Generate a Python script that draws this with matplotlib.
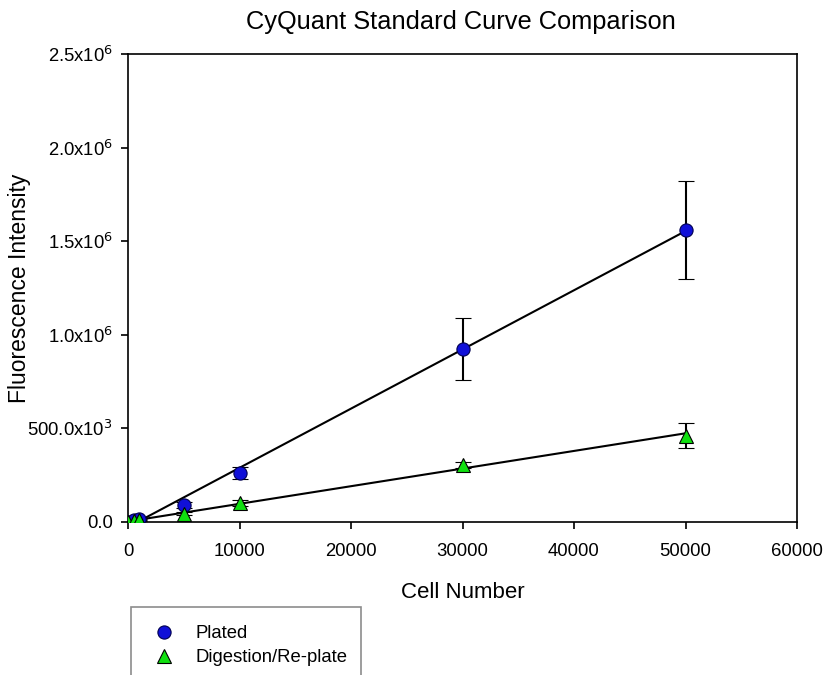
import numpy as np
import matplotlib

matplotlib.use("Agg")
import matplotlib.pyplot as plt
from matplotlib.ticker import FixedLocator, FixedFormatter

plt.rcParams["font.family"] = ["Liberation Sans", "DejaVu Sans"]

# Datos
cells = [0, 500, 1000, 5000, 10000, 30000, 50000]
plated = [0, 9000, 17000, 90000, 262000, 924000, 1562000]
plated_err = [3000, 4000, 6000, 15000, 30000, 165000, 262000]
digest = [0, 6000, 11000, 45000, 100000, 305000, 462000]
digest_err = [2000, 3000, 4000, 8000, 15000, 15000, 65000]

x_ticks = [0, 10000, 20000, 30000, 40000, 50000, 60000]
y_ticks = [0, 500000, 1000000, 1500000, 2000000, 2500000]
y_labels = ["0.0", r"500.0x10$^3$", r"1.0x10$^6$", r"1.5x10$^6$", r"2.0x10$^6$", r"2.5x10$^6$"]

W, H = 827, 675
fig = plt.figure(figsize=(W / 100, H / 100), dpi=100)
fig.patch.set_facecolor("white")
ax = fig.add_axes([128 / W, 1 - 522 / H, (797 - 128) / W, (522 - 54) / H])

# Rectas de regresión
xs = np.array(cells, dtype=float)
for ys in (plated, digest):
    m, b = np.polyfit(xs, np.array(ys, dtype=float), 1)
    ax.plot([xs.min(), xs.max()], [m * xs.min() + b, m * xs.max() + b],
            color="black", lw=1.5, zorder=2)

p1 = ax.errorbar(cells, plated, yerr=plated_err, fmt="o", color="black",
                 ecolor="black", elinewidth=1.5, capsize=6, capthick=1.5,
                 markersize=9.5, markerfacecolor="#1010d8", markeredgecolor="#000050",
                 markeredgewidth=0.8, zorder=3)
p2 = ax.errorbar(cells, digest, yerr=digest_err, fmt="^", color="black",
                 ecolor="black", elinewidth=1.5, capsize=6, capthick=1.5,
                 markersize=10, markerfacecolor="#10e010", markeredgecolor="black",
                 markeredgewidth=0.8, zorder=3)

ax.set_xlim(0, 60000)
ax.set_ylim(0, 2500000)
ax.xaxis.set_major_locator(FixedLocator(x_ticks))
ax.xaxis.set_major_formatter(FixedFormatter([str(t) for t in x_ticks]))
ax.yaxis.set_major_locator(FixedLocator(y_ticks))
ax.yaxis.set_major_formatter(FixedFormatter(y_labels))
ax.tick_params(direction="out", length=5, width=1.2, labelsize=13.3, colors="black")
ax.tick_params(axis="x", pad=10)
ax.tick_params(axis="y", pad=6)
for s in ax.spines.values():
    s.set_linewidth(1.2)

ax.set_xlabel("Cell Number", fontsize=16, labelpad=16)
ax.set_ylabel("Fluorescence Intensity", fontsize=16.5, va="center")
ax.yaxis.set_label_coords((20 - 128) / 669, 0.5)
fig.text(461 / W, 1 - 22 / H, "CyQuant Standard Curve Comparison",
         fontsize=18.3, ha="center", va="center")

leg = fig.legend([p1[0], p2[0]], ["Plated", "Digestion/Re-plate"],
                 loc="upper left", bbox_to_anchor=(131 / W, 0, 230 / W, 1 - 607 / H),
                 mode="expand", fontsize=13.3, frameon=True, fancybox=False,
                 borderpad=1.0, handlelength=1.6, handletextpad=0.87,
                 labelspacing=0.38, borderaxespad=0, numpoints=1)
leg.get_frame().set_edgecolor("#707070")
leg.get_frame().set_linewidth(1.2)

fig.savefig("out.png", dpi=100, facecolor="white")
